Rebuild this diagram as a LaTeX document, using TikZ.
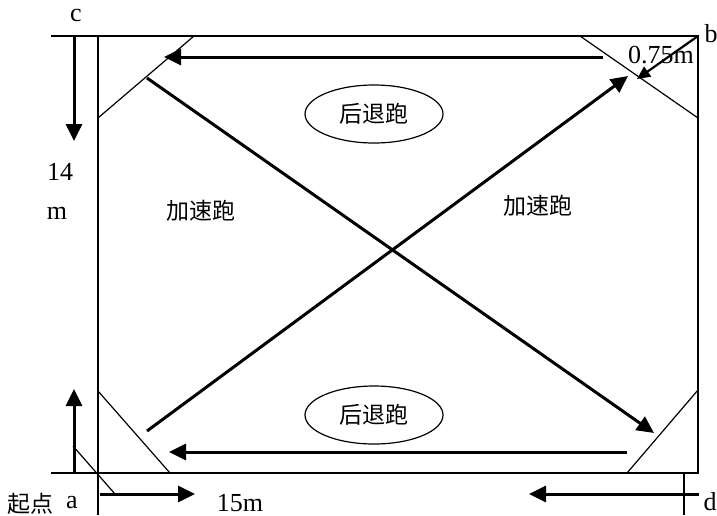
\documentclass[tikz,border=0pt]{standalone}
\usepackage{fontspec}
\setmainfont{Liberation Serif}
\newfontfamily\cjk{Noto Sans CJK SC}
\usetikzlibrary{arrows.meta,shapes.geometric}
\begin{document}
\begin{tikzpicture}[x=1pt,y=-1pt,
  thin line/.style={line width=1.2pt},
  run/.style={line width=3pt,-{Triangle[length=17pt,width=16pt]}},
  lbl/.style={inner sep=0pt,font=\fontsize{26}{26}\selectfont},
  cn/.style={inner sep=0pt,font=\cjk\fontsize{23}{23}\selectfont},
  oval/.style={draw,ellipse,line width=1.2pt,minimum width=138pt,minimum height=58pt,inner sep=0pt,font=\cjk\fontsize{23}{23}\selectfont}]
\useasboundingbox (0,0) rectangle (717,515);
% field corners
\coordinate (TL) at (98,36);
\coordinate (TR) at (698,36);
\coordinate (BR) at (698,473);
\coordinate (BL) at (98,473);
% outline
\draw[thin line] (51,36) -- (TR) -- (BR) -- (51,473);
\draw[thin line] (TL) -- (98,515);
\draw[thin line] (684,473) -- (684,515);
% corner cuts
\draw[thin line] (98,118) -- (194,36);
\draw[thin line] (580,36) -- (698,118);
\draw[thin line] (98,391) -- (170,473);
\draw[thin line] (627,473) -- (698,390);
\draw[thin line] (73,446) -- (115,494);
% arrow end points
\coordinate (c1) at (74,36);   \coordinate (c2) at (74,141);
\coordinate (a1) at (74,473);  \coordinate (a2) at (74,389);
\coordinate (s1) at (100,494); \coordinate (s2) at (195,494);
\coordinate (d1) at (699,494); \coordinate (d2) at (529,494);
\coordinate (t1) at (603,57);  \coordinate (t2) at (164,57);
\coordinate (u1) at (627,452); \coordinate (u2) at (169,452);
\coordinate (x1) at (147,78);  \coordinate (x2) at (654,433);
\coordinate (y1) at (147,431); \coordinate (y2) at (628,76);
\coordinate (m2) at (637,79);
\draw[run] (c1) -- (c2);
\draw[run] (a1) -- (a2);
\draw[run] (s1) -- (s2);
\draw[run] (d1) -- (d2);
\draw[run] (t1) -- (t2);
\draw[run] (u1) -- (u2);
\draw[run] (x1) -- (x2);
\draw[run] (y1) -- (y2);
\draw[run,line width=2.2pt,-{Triangle[length=13pt,width=12pt]}] (TR) -- (m2);
% ovals
\node[oval] (topoval) at (374,114) {后退跑};
\node[oval] (botoval) at (374,415) {后退跑};
% labels
\node[cn] (accL) at (201,211) {加速跑};
\node[cn] (accR) at (538,206) {加速跑};
\node[lbl] (c) at (76,15) {c};
\node[lbl] (b) at (711,34) {b};
\node[lbl] (w) at (661,55) {0.75m};
\node[lbl] (n14) at (60,172) {14};
\node[lbl] (m) at (57,213) {m};
\node[cn,anchor=west] (start) at (7,504) {起点};
\node[lbl] (a) at (72,503) {a};
\node[lbl] (len) at (240,503) {15m};
\node[lbl] (d) at (710,502) {d};
\end{tikzpicture}
\end{document}
